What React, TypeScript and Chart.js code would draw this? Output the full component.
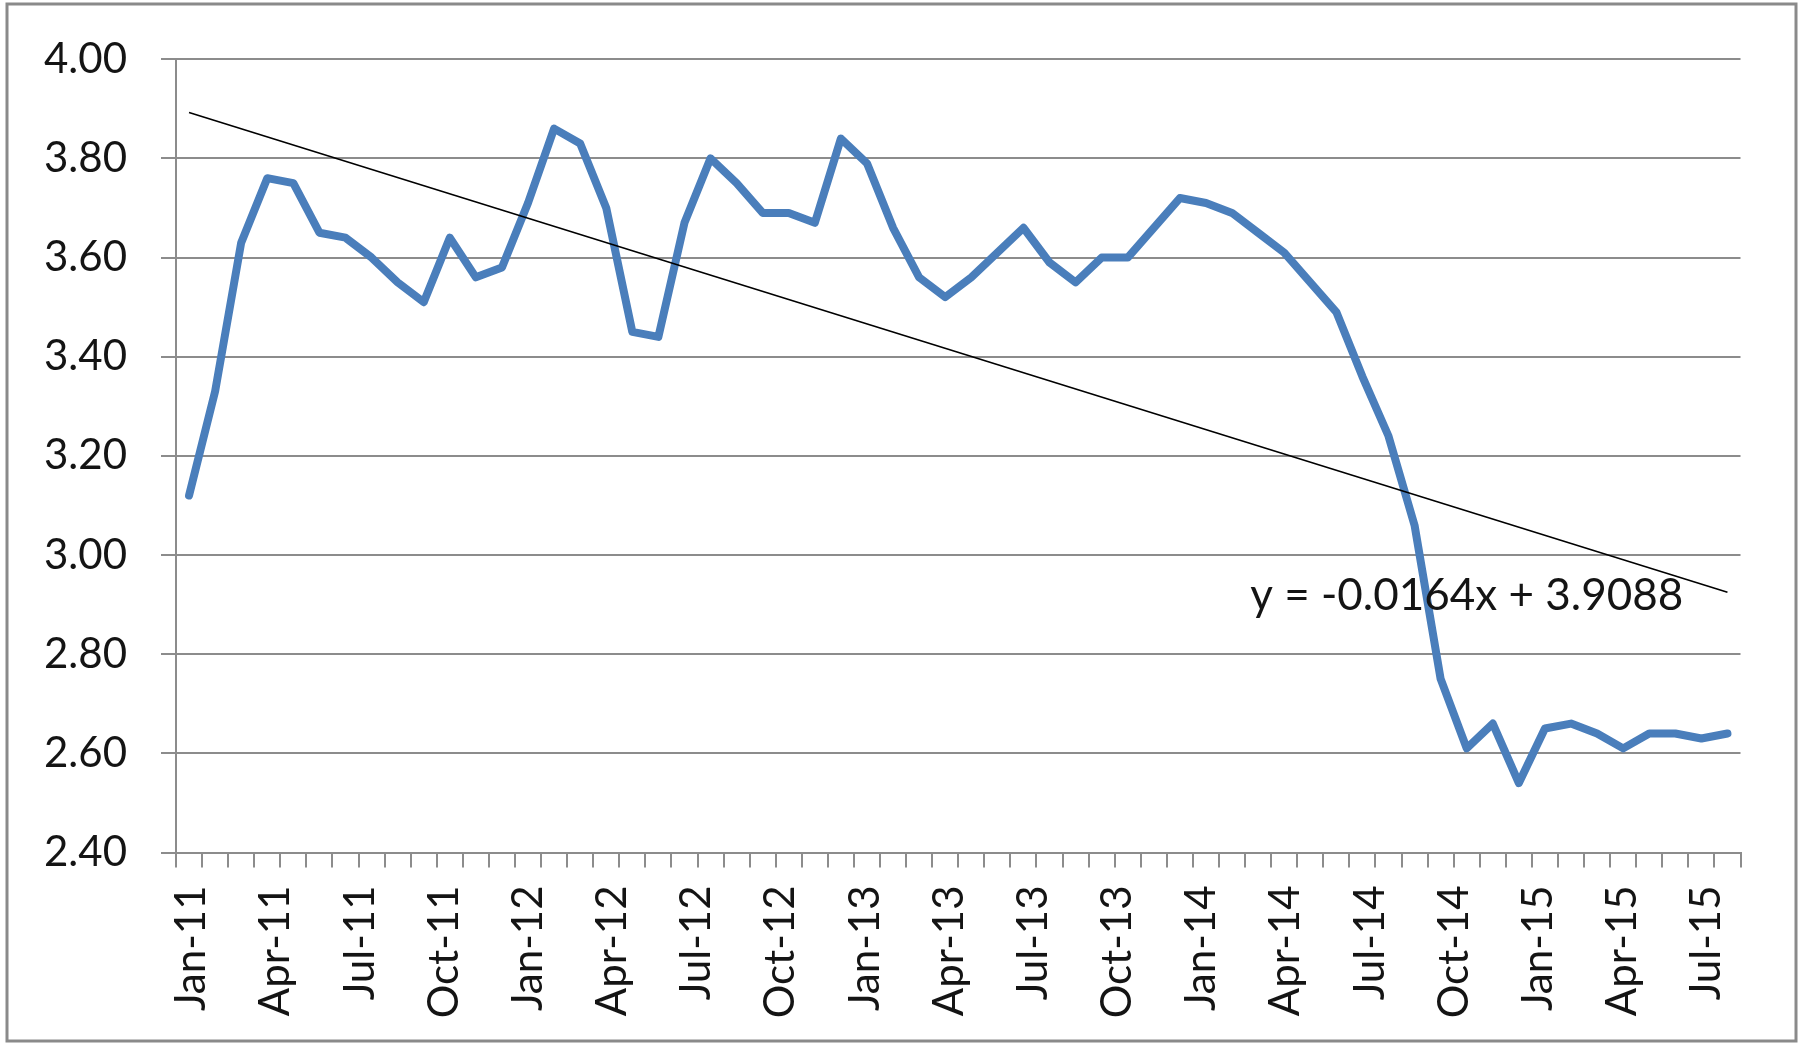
import React, { useEffect, useRef } from 'react';
import { Chart, registerables } from 'chart.js';

Chart.register(...registerables);

// ---- data (60 evenly spaced observations, Jan-11 .. Aug-15) ----
const VALUES: number[] = [
  3.12, 3.33, 3.63, 3.76, 3.75, 3.65, 3.64, 3.60, 3.55, 3.51,
  3.64, 3.56, 3.58, 3.71, 3.86, 3.83, 3.70, 3.45, 3.44, 3.67,
  3.80, 3.75, 3.69, 3.69, 3.67, 3.84, 3.79, 3.66, 3.56, 3.52,
  3.56, 3.61, 3.66, 3.59, 3.55, 3.60, 3.60, 3.66, 3.72, 3.71,
  3.69, 3.65, 3.61, 3.55, 3.49, 3.36, 3.24, 3.06, 2.75, 2.61,
  2.66, 2.54, 2.65, 2.66, 2.64, 2.61, 2.64, 2.64, 2.63, 2.64,
];

const MONTH_LABELS: string[] = [
  'Jan-11', 'Apr-11', 'Jul-11', 'Oct-11',
  'Jan-12', 'Apr-12', 'Jul-12', 'Oct-12',
  'Jan-13', 'Apr-13', 'Jul-13', 'Oct-13',
  'Jan-14', 'Apr-14', 'Jul-14', 'Oct-14',
  'Jan-15', 'Apr-15', 'Jul-15',
];

const Y_MIN = 2.4;
const Y_MAX = 4.0;
const Y_STEP = 0.2;

// linear trendline shown on the chart
const TREND_SLOPE = -0.0164;
const TREND_INTERCEPT = 3.9088;
const TREND_TEXT = 'y = -0.0164x + 3.9088';

// ---- layout constants ----
const W = 1802;
const H = 1043;
const LABEL_FIRST_X = 1.1;   // where the first month label sits on the index axis
const LABEL_STEP = 3.228;    // index units per 3 months
const EQ_X = 50;             // equation anchor in data units
const EQ_Y = 2.889;
const FONT = 'Lato';
const GRID = '#8c8c8c';
const TEXT = '#141414';

export default function App() {
  const ref = useRef<HTMLCanvasElement>(null);

  useEffect(() => {
    const canvas = ref.current;
    if (!canvas) return;
    const N = VALUES.length;

    const framePlugin = {
      id: 'frame',
      beforeDraw(chart: any) {
        const ctx = chart.ctx;
        ctx.save();
        ctx.fillStyle = '#ffffff';
        ctx.fillRect(0, 0, W, H);
        ctx.strokeStyle = '#8a8a8a';
        ctx.lineWidth = 3;
        ctx.strokeRect(7, 4, 1789, 1037);
        ctx.restore();
      },
    };

    const equationPlugin = {
      id: 'equation',
      afterDraw(chart: any) {
        const ctx = chart.ctx;
        const x = chart.scales.x.getPixelForValue(EQ_X);
        const y = chart.scales.y.getPixelForValue(EQ_Y);
        ctx.save();
        ctx.font = `44px ${FONT}`;
        ctx.fillStyle = TEXT;
        ctx.textAlign = 'center';
        ctx.textBaseline = 'alphabetic';
        ctx.fillText(TREND_TEXT, x, y);
        ctx.restore();
      },
    };

    const chart = new Chart(canvas, {
      type: 'line',
      data: {
        datasets: [
          {
            label: 'Value',
            data: VALUES.map((v, i) => ({ x: i + 1, y: v })),
            borderColor: '#4a7ebb',
            borderWidth: 8,
            borderCapStyle: 'round',
            borderJoinStyle: 'round',
            pointRadius: 0,
            tension: 0,
            fill: false,
            order: 2,
          },
          {
            label: 'Trend',
            data: [
              { x: 1, y: TREND_INTERCEPT + TREND_SLOPE * 1 },
              { x: N, y: TREND_INTERCEPT + TREND_SLOPE * N },
            ],
            borderColor: '#000000',
            borderWidth: 1.6,
            pointRadius: 0,
            tension: 0,
            fill: false,
            order: 1,
          },
        ],
      },
      options: {
        responsive: false,
        animation: false,
        devicePixelRatio: 1,
        events: [],
        layout: { padding: { top: 57, right: 61.5, left: 0, bottom: 0 } },
        plugins: {
          legend: { display: false },
          tooltip: { enabled: false },
        },
        scales: {
          x: {
            type: 'linear',
            min: 0.5,
            max: N + 0.5,
            afterBuildTicks(scale: any) {
              const ticks: any[] = [];
              for (let i = 0; i <= N; i++) ticks.push({ value: i + 0.5, text: '' });
              MONTH_LABELS.forEach((lab, k) => {
                ticks.push({ value: LABEL_FIRST_X + k * LABEL_STEP, text: lab, isLabel: true });
              });
              scale.ticks = ticks;
            },
            afterFit(scale: any) {
              scale.height = H - 852.5;
            },
            grid: {
              drawOnChartArea: false,
              drawTicks: true,
              tickLength: 15,
              lineWidth: 2,
              color: (c: any) => (c.tick && c.tick.isLabel ? 'rgba(0,0,0,0)' : GRID),
            },
            border: { display: true, color: GRID, width: 2 },
            ticks: {
              autoSkip: false,
              minRotation: 90,
              maxRotation: 90,
              padding: 18,
              color: TEXT,
              font: { family: FONT, size: 42 },
              callback: (_v: any, i: number, ticks: any[]) => (ticks[i] && ticks[i].text) || '',
            },
          },
          y: {
            type: 'linear',
            min: Y_MIN,
            max: Y_MAX,
            afterFit(scale: any) {
              scale.width = 176;
            },
            grid: {
              drawTicks: true,
              tickLength: 15,
              lineWidth: 2,
              color: GRID,
            },
            border: { display: true, color: GRID, width: 2 },
            ticks: {
              stepSize: Y_STEP,
              padding: 34,
              color: TEXT,
              font: { family: FONT, size: 42 },
              callback: (v: any) => Number(v).toFixed(2),
            },
          },
        },
      },
      plugins: [framePlugin, equationPlugin],
    } as any);

    return () => chart.destroy();
  }, []);

  return (
    <div style={{ position: 'fixed', left: 0, top: 0, width: W, height: H, background: '#fff' }}>
      <canvas ref={ref} width={W} height={H} style={{ display: 'block', width: W, height: H }} />
    </div>
  );
}
